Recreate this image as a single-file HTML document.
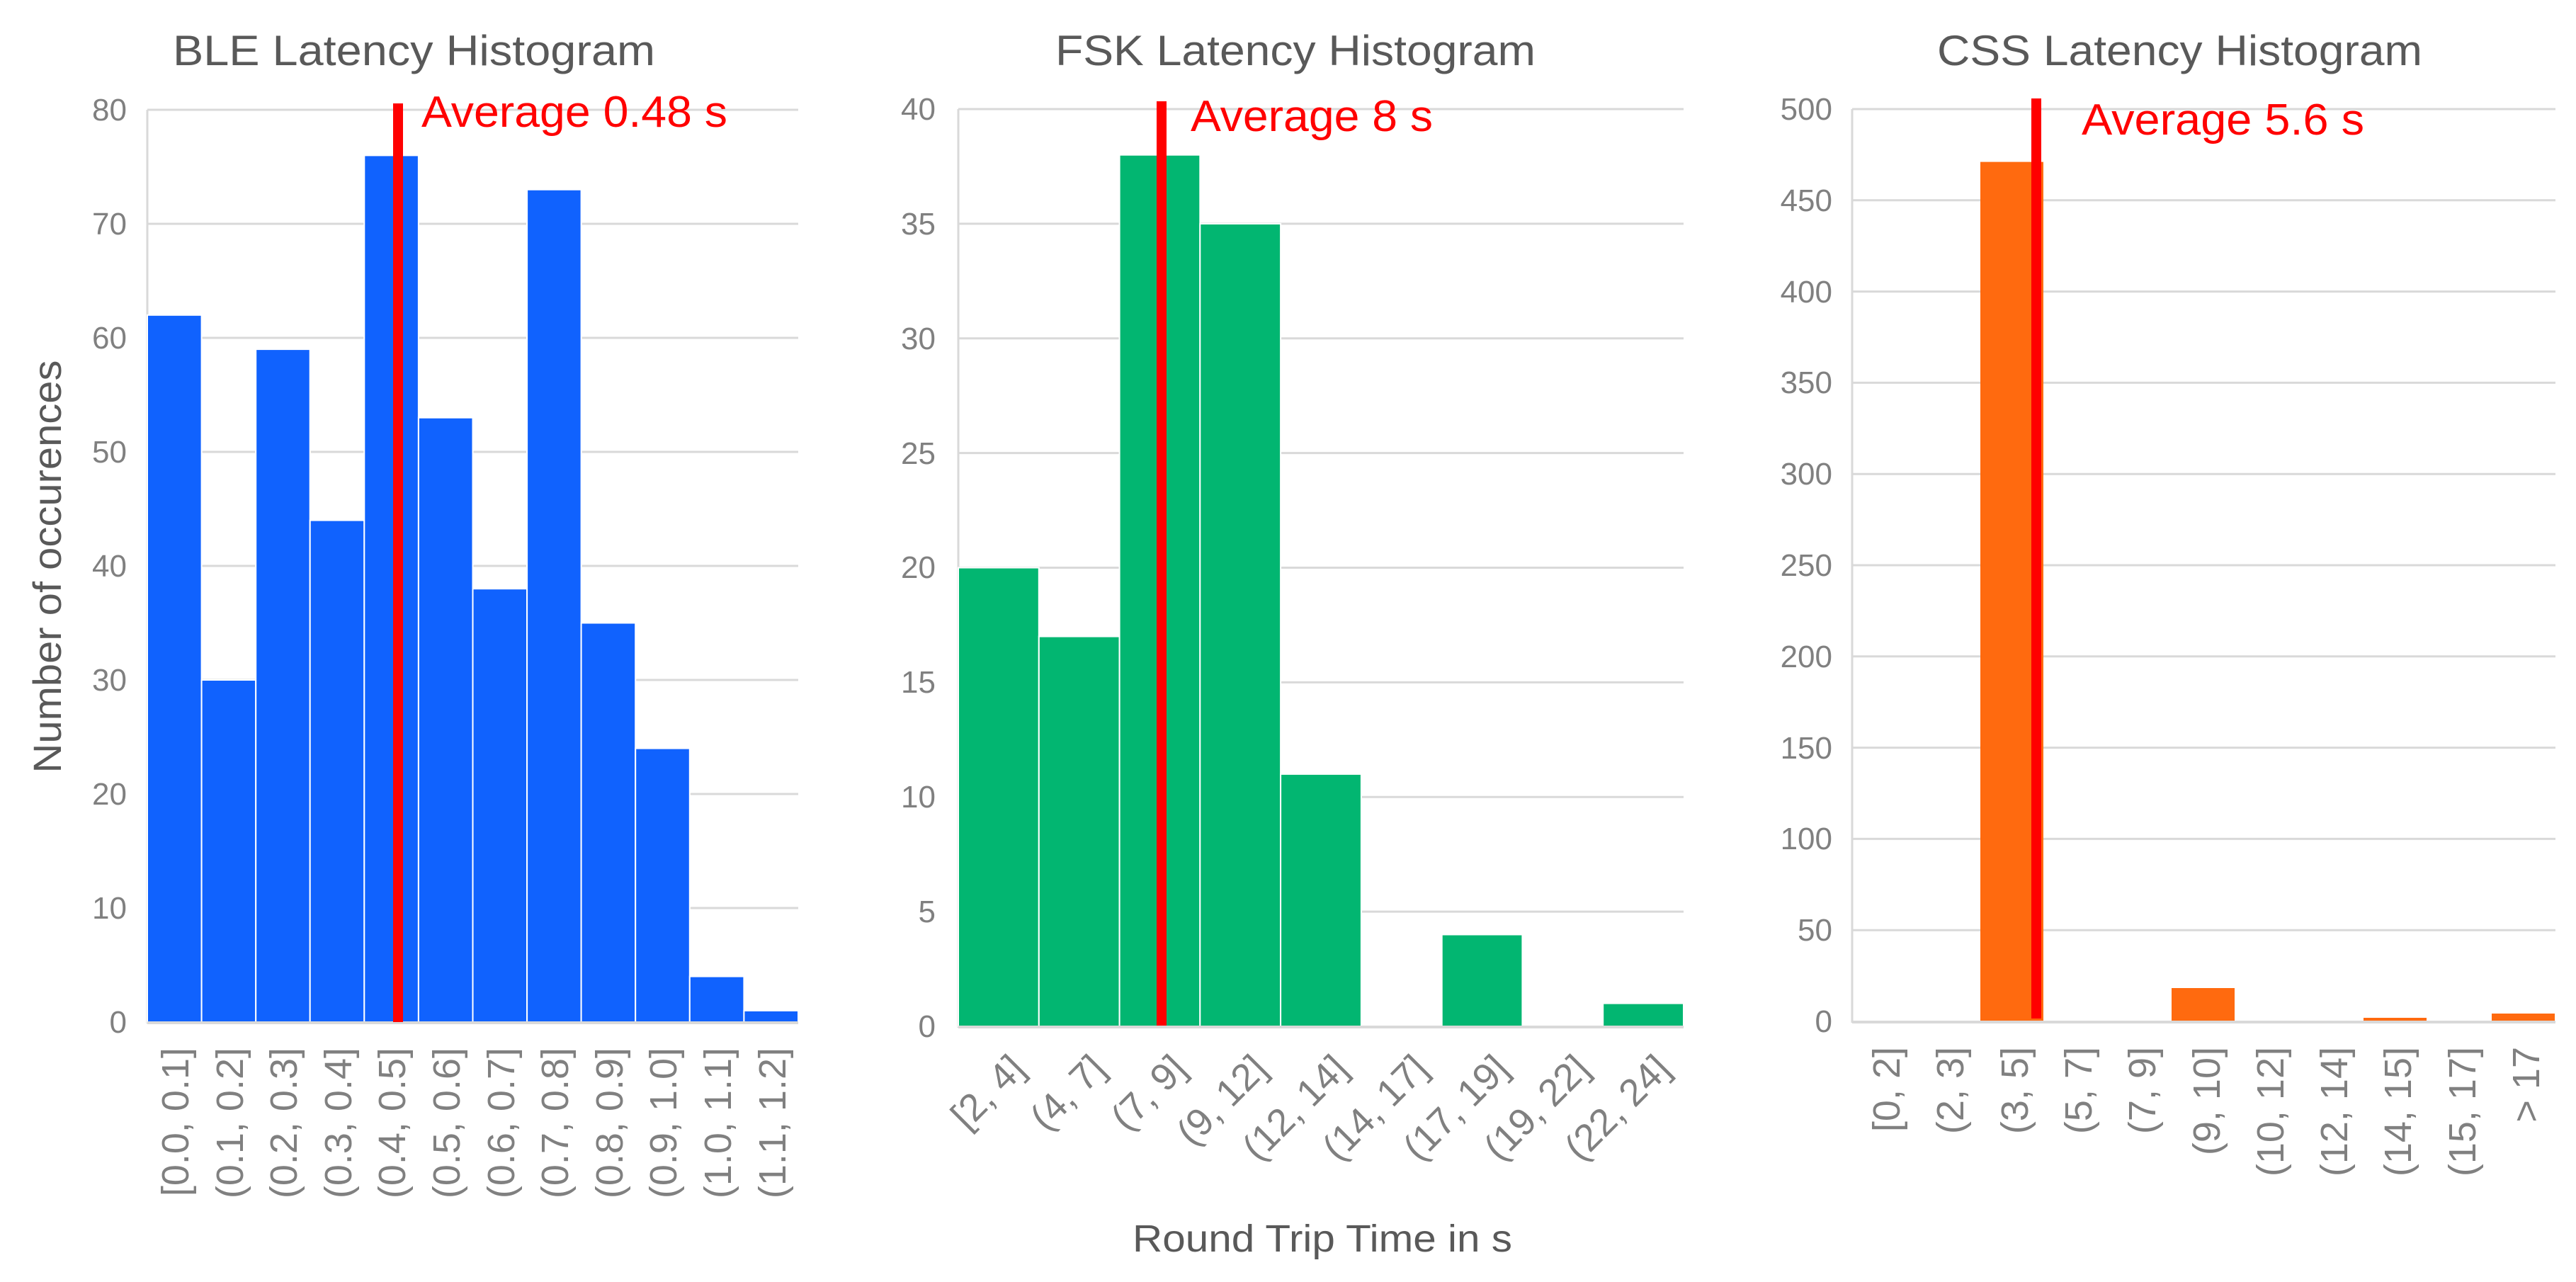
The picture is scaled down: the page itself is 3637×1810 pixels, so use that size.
<!DOCTYPE html>
<html><head><meta charset="utf-8"><style>
html,body{margin:0;padding:0;background:#fff}
svg{display:block}
text{font-family:"Liberation Sans",Arial,sans-serif}
.t{fill:#595959;font-size:60px}
.yl{fill:#808080;font-size:44px;text-anchor:end}
.xl{fill:#808080;font-size:54px;text-anchor:end}
.av{fill:#ff0000;font-size:62px}
.g{stroke:#d9d9d9;stroke-width:3}
</style></head><body>
<svg width="3637" height="1810" viewBox="0 0 3637 1810" xmlns="http://www.w3.org/2000/svg">
<rect width="3637" height="1810" fill="#fff"/>

<!-- ===== BLE ===== -->
<g class="g">
<line x1="208" y1="1282" x2="1127" y2="1282"/><line x1="208" y1="1121" x2="1127" y2="1121"/>
<line x1="208" y1="960" x2="1127" y2="960"/><line x1="208" y1="799" x2="1127" y2="799"/>
<line x1="208" y1="638" x2="1127" y2="638"/><line x1="208" y1="477" x2="1127" y2="477"/>
<line x1="208" y1="316" x2="1127" y2="316"/><line x1="208" y1="155" x2="1127" y2="155"/>
<line x1="208" y1="155" x2="208" y2="1445"/>
</g>
<g fill="#1062fe" stroke="#fff" stroke-width="2">
<rect x="208" y="444.8" width="76.6" height="998.2"/>
<rect x="284.6" y="960" width="76.6" height="483"/>
<rect x="361.2" y="493.1" width="76.5" height="949.9"/>
<rect x="437.7" y="734.6" width="76.6" height="708.4"/>
<rect x="514.3" y="219.4" width="76.6" height="1223.6"/>
<rect x="590.9" y="589.7" width="76.6" height="853.3"/>
<rect x="667.5" y="831.2" width="76.6" height="611.8"/>
<rect x="744.1" y="267.7" width="76.5" height="1175.3"/>
<rect x="820.6" y="879.5" width="76.6" height="563.5"/>
<rect x="897.2" y="1056.6" width="76.6" height="386.4"/>
<rect x="973.8" y="1378.6" width="76.6" height="64.4"/>
<rect x="1050.4" y="1426.9" width="76.6" height="16.1"/>
</g>
<line x1="208" y1="1444" x2="1127" y2="1444" stroke="#d9d9d9" stroke-width="4"/>
<rect x="555" y="146" width="14" height="1297" fill="#ff0000"/>
<text class="av" x="595" y="179" textLength="432" lengthAdjust="spacingAndGlyphs">Average 0.48 s</text>
<text class="t" x="244" y="92" textLength="681" lengthAdjust="spacingAndGlyphs">BLE Latency Histogram</text>
<g class="yl">
<text x="179" y="1458">0</text><text x="179" y="1297">10</text><text x="179" y="1136">20</text>
<text x="179" y="975">30</text><text x="179" y="814">40</text><text x="179" y="653">50</text>
<text x="179" y="492">60</text><text x="179" y="331">70</text><text x="179" y="170">80</text>
</g>
<text transform="translate(86,800) rotate(-90)" text-anchor="middle" fill="#595959" font-size="56" textLength="583" lengthAdjust="spacingAndGlyphs">Number of occurences</text>
<g class="xl" font-size="57">
<text transform="translate(266,1479) rotate(-90)">[0.0, 0.1]</text>
<text transform="translate(343,1479) rotate(-90)">(0.1, 0.2]</text>
<text transform="translate(419,1479) rotate(-90)">(0.2, 0.3]</text>
<text transform="translate(496,1479) rotate(-90)">(0.3, 0.4]</text>
<text transform="translate(572,1479) rotate(-90)">(0.4, 0.5]</text>
<text transform="translate(649,1479) rotate(-90)">(0.5, 0.6]</text>
<text transform="translate(726,1479) rotate(-90)">(0.6, 0.7]</text>
<text transform="translate(802,1479) rotate(-90)">(0.7, 0.8]</text>
<text transform="translate(879,1479) rotate(-90)">(0.8, 0.9]</text>
<text transform="translate(955,1479) rotate(-90)">(0.9, 1.0]</text>
<text transform="translate(1032,1479) rotate(-90)">(1.0, 1.1]</text>
<text transform="translate(1109,1479) rotate(-90)">(1.1, 1.2]</text>
</g>

<!-- ===== FSK ===== -->
<g class="g">
<line x1="1353" y1="1287.1" x2="2377" y2="1287.1"/><line x1="1353" y1="1125.3" x2="2377" y2="1125.3"/>
<line x1="1353" y1="963.4" x2="2377" y2="963.4"/><line x1="1353" y1="801.5" x2="2377" y2="801.5"/>
<line x1="1353" y1="639.6" x2="2377" y2="639.6"/><line x1="1353" y1="477.8" x2="2377" y2="477.8"/>
<line x1="1353" y1="315.9" x2="2377" y2="315.9"/><line x1="1353" y1="154" x2="2377" y2="154"/>
<line x1="1353" y1="154" x2="1353" y2="1451"/>
</g>
<g fill="#02b671" stroke="#fff" stroke-width="2">
<rect x="1353" y="801.5" width="113.8" height="647.5"/>
<rect x="1466.8" y="898.6" width="113.8" height="550.4"/>
<rect x="1580.6" y="218.7" width="113.7" height="1230.3"/>
<rect x="1694.3" y="315.9" width="113.8" height="1133.1"/>
<rect x="1808.1" y="1092.9" width="113.8" height="356.1"/>
<rect x="2035.7" y="1319.5" width="113.7" height="129.5"/>
<rect x="2263.2" y="1416.6" width="113.8" height="32.4"/>
</g>
<line x1="1353" y1="1450" x2="2377" y2="1450" stroke="#d9d9d9" stroke-width="4"/>
<rect x="1633" y="143" width="14" height="1305" fill="#ff0000"/>
<text class="av" x="1681" y="185" textLength="342" lengthAdjust="spacingAndGlyphs">Average 8 s</text>
<text class="t" x="1490" y="92" textLength="678" lengthAdjust="spacingAndGlyphs">FSK Latency Histogram</text>
<g class="yl">
<text x="1321" y="1464">0</text><text x="1321" y="1302">5</text><text x="1321" y="1140">10</text>
<text x="1321" y="978">15</text><text x="1321" y="816">20</text><text x="1321" y="655">25</text>
<text x="1321" y="493">30</text><text x="1321" y="331">35</text><text x="1321" y="169">40</text>
</g>
<g class="xl" font-size="54">
<text transform="translate(1450,1512) rotate(-45)">[2, 4]</text>
<text transform="translate(1564,1512) rotate(-45)">(4, 7]</text>
<text transform="translate(1678,1512) rotate(-45)">(7, 9]</text>
<text transform="translate(1792,1512) rotate(-45)">(9, 12]</text>
<text transform="translate(1906,1512) rotate(-45)">(12, 14]</text>
<text transform="translate(2019,1512) rotate(-45)">(14, 17]</text>
<text transform="translate(2133,1512) rotate(-45)">(17, 19]</text>
<text transform="translate(2247,1512) rotate(-45)">(19, 22]</text>
<text transform="translate(2361,1512) rotate(-45)">(22, 24]</text>
</g>
<text x="1599" y="1767" fill="#595959" font-size="54" textLength="536" lengthAdjust="spacingAndGlyphs">Round Trip Time in s</text>

<!-- ===== CSS ===== -->
<g class="g">
<line x1="2615" y1="1313.2" x2="3608" y2="1313.2"/><line x1="2615" y1="1184.4" x2="3608" y2="1184.4"/>
<line x1="2615" y1="1055.6" x2="3608" y2="1055.6"/><line x1="2615" y1="926.8" x2="3608" y2="926.8"/>
<line x1="2615" y1="798" x2="3608" y2="798"/><line x1="2615" y1="669.2" x2="3608" y2="669.2"/>
<line x1="2615" y1="540.4" x2="3608" y2="540.4"/><line x1="2615" y1="411.6" x2="3608" y2="411.6"/>
<line x1="2615" y1="282.8" x2="3608" y2="282.8"/><line x1="2615" y1="154" x2="3608" y2="154"/>
<line x1="2615" y1="154" x2="2615" y2="1444"/>
</g>
<g fill="#ff6a0f">
<rect x="2796" y="228.6" width="89" height="1213.4"/>
<rect x="3066" y="1395" width="89" height="47"/>
<rect x="3337" y="1437" width="89" height="5"/>
<rect x="3518" y="1431" width="89" height="11"/>
</g>
<line x1="2615" y1="1443" x2="3608" y2="1443" stroke="#d9d9d9" stroke-width="4"/>
<rect x="2868" y="139" width="14" height="1299" fill="#ff0000"/>
<text class="av" x="2939" y="190" textLength="399" lengthAdjust="spacingAndGlyphs">Average 5.6 s</text>
<text class="t" x="2735" y="92" textLength="685" lengthAdjust="spacingAndGlyphs">CSS Latency Histogram</text>
<g class="yl">
<text x="2587" y="1457">0</text><text x="2587" y="1328">50</text><text x="2587" y="1199">100</text>
<text x="2587" y="1071">150</text><text x="2587" y="942">200</text><text x="2587" y="813">250</text>
<text x="2587" y="684">300</text><text x="2587" y="555">350</text><text x="2587" y="427">400</text>
<text x="2587" y="298">450</text><text x="2587" y="169">500</text>
</g>
<g class="xl" font-size="64">
<text transform="translate(2682,1478) rotate(-90)">[0, 2]</text>
<text transform="translate(2772,1478) rotate(-90)">(2, 3]</text>
<text transform="translate(2863,1478) rotate(-90)">(3, 5]</text>
<text transform="translate(2953,1478) rotate(-90)">(5, 7]</text>
<text transform="translate(3043,1478) rotate(-90)">(7, 9]</text>
<text transform="translate(3134,1478) rotate(-90)">(9, 10]</text>
<text transform="translate(3224,1478) rotate(-90)">(10, 12]</text>
<text transform="translate(3314,1478) rotate(-90)">(12, 14]</text>
<text transform="translate(3404,1478) rotate(-90)">(14, 15]</text>
<text transform="translate(3495,1478) rotate(-90)">(15, 17]</text>
<text transform="translate(3585,1478) rotate(-90)">&gt; 17</text>
</g>
</svg>
</body></html>
